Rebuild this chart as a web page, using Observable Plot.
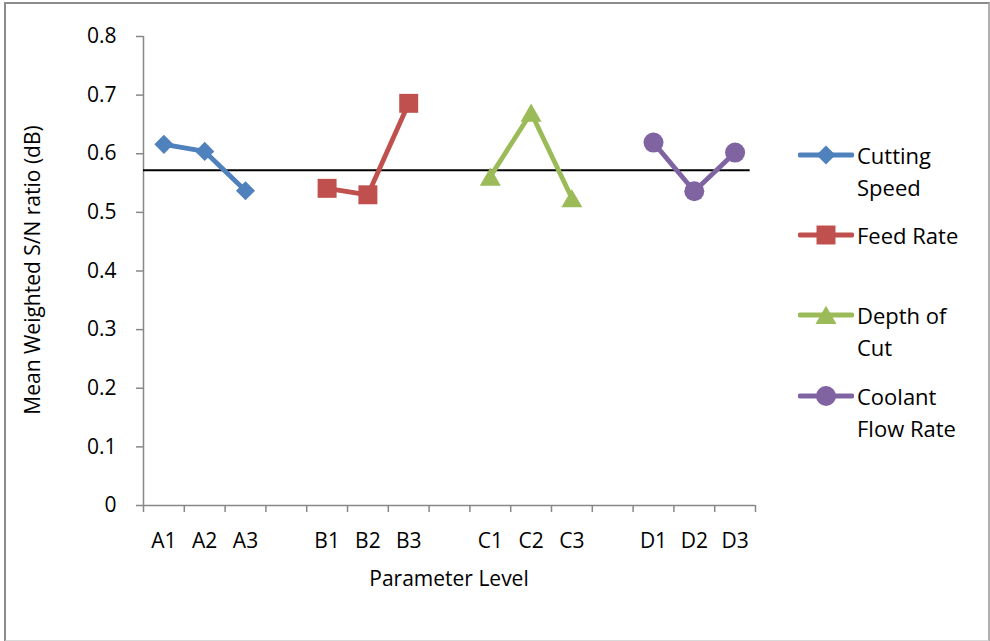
<!DOCTYPE html>
<html>
<head>
<meta charset="utf-8">
<script src="https://cdn.jsdelivr.net/npm/d3@7"></script>
<script src="https://cdn.jsdelivr.net/npm/@observablehq/plot@0.6"></script>
<style>
  html, body { margin: 0; padding: 0; background: #fff; }
  #chart { position: relative; width: 990px; height: 641px; font-family: "Open Sans", sans-serif; color: #000; }
  #frame { position: absolute; left: 4px; top: 2px; width: 982px; height: 636px;
           border: 2px solid #8c8c8c; border-bottom-color: #d9d9d9; border-right-color: #b0b0b0; pointer-events: none; }
  #legend { position: absolute; left: 798px; top: 0; }
  .item { position: absolute; left: 0; display: flex; align-items: flex-start; white-space: nowrap; }
  .item svg { flex: none; }
  .item span { font-size: 22px; line-height: 32px; margin-left: 3px; }
  .ytitle { position: absolute; left: 32px; top: 270px; transform: translate(-50%, -50%) rotate(-90deg);
            font-size: 21px; white-space: nowrap; }
  .xtitle { position: absolute; left: 449px; top: 578px; transform: translate(-50%, -50%);
            font-size: 21px; white-space: nowrap; }
</style>
</head>
<body>
<div id="chart"></div>
<script>
// Parameter levels, grouped by factor (three levels each)
const factors = ["Cutting Speed", "Feed Rate", "Depth of Cut", "Coolant Flow Rate"];
const levels = ["A1", "A2", "A3", "B1", "B2", "B3", "C1", "C2", "C3", "D1", "D2", "D3"];
const snValues = [0.616, 0.604, 0.537, 0.541, 0.530, 0.686, 0.561, 0.670, 0.524, 0.619, 0.536, 0.602];
const meanSN = 0.572;
const yTicks = [0, 0.1, 0.2, 0.3, 0.4, 0.5, 0.6, 0.7, 0.8];

const colors = ["#4F81BD", "#C0504D", "#9BBB59", "#8064A2"];
const symbols = ["diamond2", "square", "triangle", "circle"];
const symbolR = [8.6, 10.7, 7.8, 10];
// d3's triangle is centred on its centroid; shift it so its box is centred on the point
const symbolDy = [0, 0, 3, 0];
const legendLines = [["Cutting", "Speed"], ["Feed Rate"], ["Depth of", "Cut"], ["Coolant", "Flow Rate"]];

// Each factor occupies three slots followed by one empty slot on the category axis
const slotsPerGroup = 4;
const slotCount = factors.length * slotsPerGroup - 1;
const rows = levels.map((level, i) => {
  const f = Math.floor(i / 3);
  return { level, factor: factors[f], f, pos: f * slotsPerGroup + (i % 3) + 0.5, value: snValues[i] };
});

const axisGray = "#878787";

const plot = Plot.plot({
  width: 990,
  height: 641,
  marginLeft: 143,
  marginRight: 235,
  marginTop: 36,
  marginBottom: 136,
  style: { background: "transparent", fontFamily: "Open Sans, sans-serif", color: "#000" },
  x: { type: "linear", domain: [0, slotCount], axis: null },
  y: { domain: [0, 0.8], axis: null },
  symbol: { type: "identity" },
  marks: [
    // y axis: line, ticks and labels
    Plot.ruleX([0], { stroke: axisGray, strokeWidth: 1.5 }),
    Plot.axisY(yTicks, {
      label: null, tickSize: 7, tickPadding: 20, stroke: axisGray, strokeWidth: 1.5,
      fontSize: 21, tickFormat: d => d === 0 ? "0" : d.toFixed(1)
    }),
    // x axis: line with ticks at slot boundaries, labels at slot centres
    Plot.ruleY([0], { stroke: axisGray, strokeWidth: 1.5 }),
    Plot.axisX(d3.range(slotCount + 1), {
      label: null, tickSize: 7, stroke: axisGray, strokeWidth: 1.5, tickFormat: () => ""
    }),
    Plot.text(rows, { x: "pos", y: () => 0, text: "level", dy: 36, fontSize: 21, fill: "#000" }),
    // overall mean
    Plot.ruleY([meanSN], { x1: 0, x2: slotCount - 0.13, stroke: "#000", strokeWidth: 2 }),
    // factor lines and markers
    ...factors.map((name, f) => Plot.line(rows.filter(d => d.f === f), {
      x: "pos", y: "value", stroke: colors[f], strokeWidth: 4.8, strokeLinejoin: "round", strokeLinecap: "round"
    })),
    ...factors.map((name, f) => Plot.dot(rows.filter(d => d.f === f), {
      x: "pos", y: "value", symbol: () => symbols[f], fill: colors[f], stroke: "none", r: symbolR[f], dy: symbolDy[f]
    }))
  ]
});

const chart = document.getElementById("chart");
chart.appendChild(plot);

const frame = document.createElement("div");
frame.id = "frame";
chart.appendChild(frame);

const yTitle = document.createElement("div");
yTitle.className = "ytitle";
yTitle.textContent = "Mean Weighted S/N ratio (dB)";
chart.appendChild(yTitle);

const xTitle = document.createElement("div");
xTitle.className = "xtitle";
xTitle.textContent = "Parameter Level";
chart.appendChild(xTitle);

// Legend: line-with-marker swatch plus wrapped label
const legend = document.createElement("div");
legend.id = "legend";
chart.appendChild(legend);
const legendTops = [139, 219, 299, 380];
const d3Symbols = { diamond2: d3.symbolDiamond2, square: d3.symbolSquare, triangle: d3.symbolTriangle, circle: d3.symbolCircle };
factors.forEach((name, f) => {
  const item = document.createElement("div");
  item.className = "item";
  item.style.top = legendTops[f] + "px";
  const svg = d3.create("svg").attr("width", 56).attr("height", 32);
  svg.append("line").attr("x1", 2).attr("x2", 54).attr("y1", 16).attr("y2", 16)
    .attr("stroke", colors[f]).attr("stroke-width", 4.8).attr("stroke-linecap", "round");
  svg.append("path").attr("transform", `translate(28,${16 + symbolDy[f]})`)
    .attr("d", d3.symbol(d3Symbols[symbols[f]], Math.PI * symbolR[f] * symbolR[f])())
    .attr("fill", colors[f]);
  item.appendChild(svg.node());
  const label = document.createElement("span");
  label.innerHTML = legendLines[f].join("<br>");
  item.appendChild(label);
  legend.appendChild(item);
});
</script>
</body>
</html>
